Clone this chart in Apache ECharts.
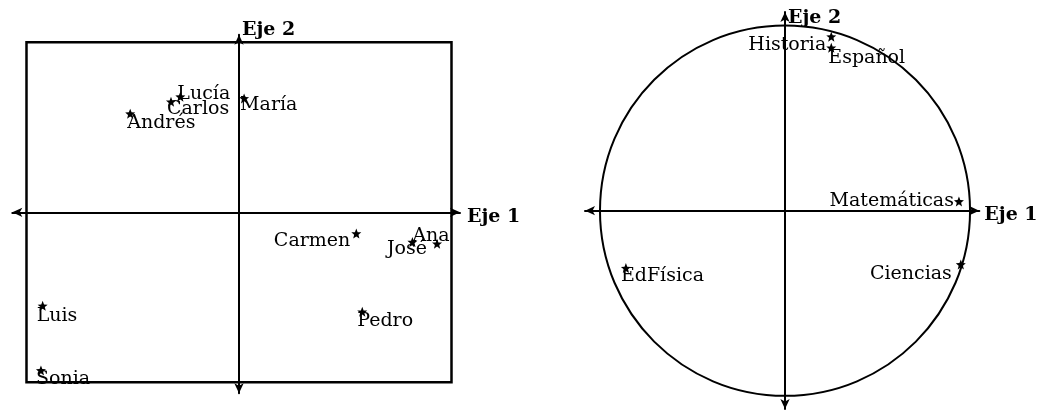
<!DOCTYPE html>
<html>
<head>
<meta charset="utf-8">
<script src="https://cdn.jsdelivr.net/npm/echarts@6/dist/echarts.min.js"></script>
<style>
  html, body { margin: 0; padding: 0; background: #fff; }
  #chart { width: 1044px; height: 415px; }
</style>
</head>
<body>
<div id="chart"></div>
<script>
// Individuals on the first factorial plane (Eje 1, Eje 2)
const students = ['Ana', 'Andrés', 'Carlos', 'Carmen', 'José', 'Lucía', 'Luis', 'María', 'Pedro', 'Sonia'];
const studentEje1 = [2.04, -1.28, -0.80, 1.38, 2.33, -0.69, -2.31, 0.06, 1.45, -2.33];
const studentEje2 = [-0.35, 1.16, 1.30, -0.25, -0.37, 1.36, -1.10, 1.34, -1.17, -1.86];

// Variables on the correlation circle
const subjects = ['Matemáticas', 'Ciencias', 'Español', 'Historia', 'EdFísica'];
const subjectEje1 = [0.94, 0.95, 0.25, 0.25, -0.86];
const subjectEje2 = [0.05, -0.29, 0.88, 0.94, -0.31];

// Frame around the individuals plot: [xMin, yMin, xMax, yMax]
const frame = [-2.5, -2, 2.5, 2];
// Correlation circle: [centre x, centre y, radius]
const circle = [0, 0, 1];

const axisNames = ['Eje 1', 'Eje 2'];

// Label placement next to each star: [align, dx, dy]
const labelPlace = {
  'Ana': ['left', 0, -6],
  'Andrés': ['left', -3, 9],
  'Carlos': ['left', -4, 7],
  'Carmen': ['right', -6, 8],
  'José': ['right', -10, 5],
  'Lucía': ['left', -3, -3],
  'Luis': ['left', -6, 10],
  'María': ['left', -4, 7],
  'Pedro': ['left', -5, 9],
  'Sonia': ['left', -5, 9],
  'Matemáticas': ['right', -5, 0],
  'Ciencias': ['right', -9, 10],
  'Español': ['left', -3, 10],
  'Historia': ['right', -5, 8],
  'EdFísica': ['left', -5, 8]
};

const STAR = 'path://M0,-10 L2.6,-3.4 L9.5,-3.1 L4.1,1.3 L5.9,8.1 L0,4.2 L-5.9,8.1 L-4.1,1.3 L-9.5,-3.1 L-2.6,-3.4 Z';
const SERIF = 'DejaVu Serif';

function pointData(names, xs, ys) {
  return names.map(function (n, i) {
    const p = labelPlace[n];
    return {
      name: n,
      value: [xs[i], ys[i]],
      label: { align: p[0], offset: [p[1], p[2]] }
    };
  });
}

function starSeries(idx, names, xs, ys) {
  return {
    type: 'scatter',
    xAxisIndex: idx, yAxisIndex: idx,
    symbol: STAR,
    symbolSize: 10,
    itemStyle: { color: '#000', opacity: 1 },
    silent: true,
    z: 5,
    label: {
      show: true,
      position: 'inside',
      formatter: '{b}',
      color: '#000',
      opacity: 1,
      fontFamily: SERIF,
      fontSize: 19,
      verticalAlign: 'middle'
    },
    data: pointData(names, xs, ys)
  };
}

function axisLine(width) {
  return {
    onZero: true,
    symbol: ['arrow', 'arrow'],
    symbolSize: [7, 10],
    lineStyle: { color: '#000', width: width }
  };
}

function hidden() {
  return {
    axisTick: { show: false },
    axisLabel: { show: false },
    splitLine: { show: false }
  };
}

function nameStyle(extra) {
  return Object.assign({ fontFamily: SERIF, fontWeight: 'bold', fontSize: 19, color: '#000' }, extra);
}

const chart = echarts.init(document.getElementById('chart'), null, { renderer: 'canvas' });

chart.setOption({
  animation: false,
  backgroundColor: '#fff',
  grid: [
    { left: 12.3, top: 34.7, width: 447.7, height: 358.6 },
    { left: 585, top: 12, width: 394.3, height: 397 }
  ],
  xAxis: [
    Object.assign({
      type: 'value', gridIndex: 0, min: -2.667, max: 2.6,
      name: axisNames[0], nameLocation: 'end', nameGap: 7,
      nameTextStyle: nameStyle({ align: 'left', verticalAlign: 'top', lineHeight: 10 }),
      axisLine: axisLine(2)
    }, hidden()),
    Object.assign({
      type: 'value', gridIndex: 1, min: -1.081, max: 1.050,
      name: axisNames[0], nameLocation: 'end', nameGap: 5,
      nameTextStyle: nameStyle({ align: 'left', verticalAlign: 'top', lineHeight: 8 }),
      axisLine: axisLine(2)
    }, hidden())
  ],
  yAxis: [
    Object.assign({
      type: 'value', gridIndex: 0, min: -2.129, max: 2.089,
      name: axisNames[1], nameLocation: 'end', nameGap: 5,
      nameTextStyle: nameStyle({ align: 'left', verticalAlign: 'middle', padding: [0, 0, 0, 3] }),
      axisLine: axisLine(2)
    }, hidden()),
    Object.assign({
      type: 'value', gridIndex: 1, min: -1.071, max: 1.073,
      name: axisNames[1], nameLocation: 'end', nameGap: -6,
      nameTextStyle: nameStyle({ align: 'left', verticalAlign: 'middle', padding: [0, 0, 0, 3] }),
      axisLine: axisLine(2)
    }, hidden())
  ],
  series: [
    {
      // rectangular frame of the individuals plane
      type: 'custom',
      xAxisIndex: 0, yAxisIndex: 0,
      silent: true,
      z: 3,
      data: [frame],
      renderItem: function (params, api) {
        const a = api.coord([api.value(0), api.value(3)]);
        const b = api.coord([api.value(2), api.value(1)]);
        return {
          type: 'rect',
          shape: { x: a[0], y: a[1], width: b[0] - a[0], height: b[1] - a[1] },
          style: { fill: 'none', stroke: '#000', lineWidth: 2.5 }
        };
      }
    },
    {
      // correlation circle
      type: 'custom',
      xAxisIndex: 1, yAxisIndex: 1,
      silent: true,
      z: 3,
      data: [circle],
      renderItem: function (params, api) {
        const c = api.coord([api.value(0), api.value(1)]);
        const r = api.size([api.value(2), api.value(2)]);
        return {
          type: 'ellipse',
          shape: { cx: c[0], cy: c[1], rx: r[0], ry: r[1] },
          style: { fill: 'none', stroke: '#000', lineWidth: 2 }
        };
      }
    },
    starSeries(0, students, studentEje1, studentEje2),
    starSeries(1, subjects, subjectEje1, subjectEje2)
  ]
});
</script>
</body>
</html>
